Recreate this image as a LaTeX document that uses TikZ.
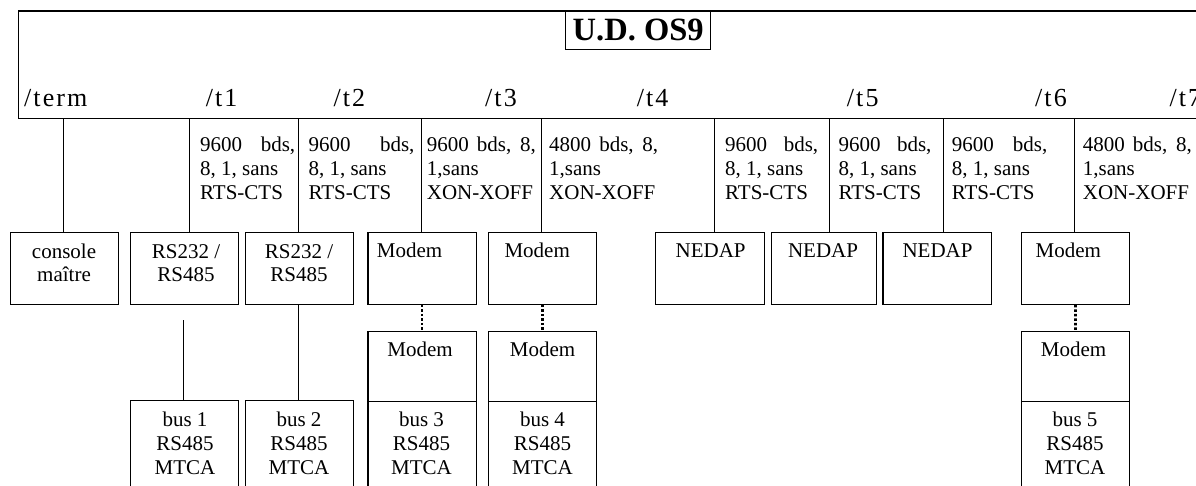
\documentclass[tikz,border=0pt]{standalone}
\usepackage{fontspec}
\setmainfont{Liberation Serif}
\newfontfamily\lblfont[LetterSpace=8]{Liberation Serif}
\begin{document}
\begin{tikzpicture}[x=1pt,y=-1pt,
  frame/.style={draw, line width=1.3, inner sep=0, anchor=north west},
  unit/.style={draw, line width=1.3, inner sep=0, anchor=north west, minimum height=71.5},
  bus/.style={draw, line width=1.3, inner sep=0, anchor=north west, minimum height=100},
  txt/.style={inner sep=0, anchor=base, align=center, font=\fontsize{21}{24}\selectfont},
  ltxt/.style={inner sep=0, anchor=base west, font=\fontsize{21}{24}\selectfont},
  col/.style={inner sep=0, anchor=base west, align=left, font=\fontsize{21}{24}\selectfont},
  lbl/.style={inner sep=0, anchor=base west, font=\lblfont\fontsize{26}{30}\selectfont},
  link/.style={line width=1.0},
  dots/.style={line width=2.6, dash pattern=on 2.5pt off 2pt}]
\path[use as bounding box] (0,0) rectangle (1196,486);
\clip (0,0) rectangle (1196,486);

% main frame
\node[frame, minimum width=1200, minimum height=107.5] (ud) at (18,10.5) {};
\node[frame, minimum width=145, minimum height=38.5, font=\bfseries\fontsize{32.5}{36}\selectfont] (title) at (565,10.5) {U.D. OS9};

% port labels
\node[lbl] (lterm) at (24,107) {/term};
\node[lbl] (lt1) at (205.7,107) {/t1};
\node[lbl] (lt2) at (333.3,107) {/t2};
\node[lbl] (lt3) at (485,107) {/t3};
\node[lbl] (lt4) at (636.7,107) {/t4};
\node[lbl] (lt5) at (846.7,107) {/t5};
\node[lbl] (lt6) at (1035,107) {/t6};
\node[lbl] (lt7) at (1169.3,107) {/t7};

% column parameters (base = last line)
\node[col] (c1) at (200,199.5) {\makebox[95pt][s]{9600 bds,}\\8, 1, sans\\RTS-CTS};
\node[col] (c2) at (308.3,199.5) {\makebox[106pt][s]{9600 bds,}\\8, 1, sans\\RTS-CTS};
\node[col] (c3) at (426.7,199.5) {\makebox[109pt][s]{9600 bds, 8,}\\1,sans\\XON-XOFF};
\node[col] (c4) at (549,199.5) {\makebox[109pt][s]{4800 bds, 8,}\\1,sans\\XON-XOFF};
\node[col] (c5) at (725,199.5) {\makebox[93pt][s]{9600 bds,}\\8, 1, sans\\RTS-CTS};
\node[col] (c6) at (838.3,199.5) {\makebox[93pt][s]{9600 bds,}\\8, 1, sans\\RTS-CTS};
\node[col] (c7) at (951.7,199.5) {\makebox[95.5pt][s]{9600 bds,}\\8, 1, sans\\RTS-CTS};
\node[col] (c8) at (1082.7,199.5) {\makebox[109pt][s]{4800 bds, 8,}\\1,sans\\XON-XOFF};

% first row of units
\node[unit, minimum width=108] (console) at (10,232) {};
\node[unit, minimum width=108] (rs1) at (130,232) {};
\node[unit, minimum width=108] (rs2) at (245,232) {};
\node[unit, minimum width=108.4] (mod3) at (367.3,232) {};
\node[unit, minimum width=108.3] (mod4) at (487.7,232) {};
\node[unit, minimum width=109] (ned1) at (655,232) {};
\node[unit, minimum width=105.3] (ned2) at (770.5,232) {};
\node[unit, minimum width=108.8] (ned3) at (882.2,232) {};
\node[unit, minimum width=108.4] (mod6) at (1020.6,232) {};

\node[txt] at (64,282) {console\\maître};
\node[txt] at (186,282) {RS232 /\\RS485};
\node[txt] at (299,282) {RS232 /\\RS485};
\node[ltxt] at (376.7,258) {Modem};
\node[ltxt] at (504.3,258) {Modem};
\node[txt] at (710.6,258) {NEDAP};
\node[txt] at (823,258) {NEDAP};
\node[txt] at (937.5,258) {NEDAP};
\node[ltxt] at (1035.4,258) {Modem};

% second row of modems
\node[unit, minimum width=108.4, minimum height=70] (mod3b) at (367.3,330.7) {};
\node[unit, minimum width=108.3, minimum height=70] (mod4b) at (487.7,330.7) {};
\node[unit, minimum width=108.3, minimum height=70] (mod6b) at (1020.7,330.7) {};
\node[txt] at (420,356.7) {Modem};
\node[txt] at (542.5,356.7) {Modem};
\node[txt] at (1073.5,356.7) {Modem};

% buses
\node[bus, minimum width=108] (bus1) at (130,400) {};
\node[bus, minimum width=108] (bus2) at (245,400) {};
\node[bus, minimum width=108.4] (bus3) at (367.3,400.7) {};
\node[bus, minimum width=108.3] (bus4) at (487.7,400.7) {};
\node[bus, minimum width=108.3] (bus5) at (1020.7,400.7) {};
\node[txt] at (185,474) {bus 1\\RS485\\MTCA};
\node[txt] at (299,474) {bus 2\\RS485\\MTCA};
\node[txt] at (421.5,474) {bus 3\\RS485\\MTCA};
\node[txt] at (542.5,474) {bus 4\\RS485\\MTCA};
\node[txt] at (1075,474) {bus 5\\RS485\\MTCA};

% connectors from the frame
\draw[link] ([xshift=-1pt]console.north) -- ([xshift=-1pt]console.north |- ud.south);
\draw[link] ([xshift=4.5pt]rs1.north) -- ([xshift=4.5pt]rs1.north |- ud.south);
\draw[link] ([xshift=-0.7pt]rs2.north) -- ([xshift=-0.7pt]rs2.north |- ud.south);
\draw[link] ([xshift=-0.7pt]mod3.north) -- ([xshift=-0.7pt]mod3.north |- ud.south);
\draw[link] ([xshift=-0.8pt]mod4.north) -- ([xshift=-0.8pt]mod4.north |- ud.south);
\draw[link] ([xshift=4.5pt]ned1.north) -- ([xshift=4.5pt]ned1.north |- ud.south);
\draw[link] ([xshift=5.3pt]ned2.north) -- ([xshift=5.3pt]ned2.north |- ud.south);
\draw[link] ([xshift=6.2pt]ned3.north) -- ([xshift=6.2pt]ned3.north |- ud.south);
\draw[link] ([xshift=-1pt]mod6.north) -- ([xshift=-1pt]mod6.north |- ud.south);

% connectors to buses
\coordinate (b1top) at (183.3,320);
\draw[link] (b1top) -- (b1top |- bus1.north);
\draw[link] ([xshift=-1.2pt]rs2.south) -- ([xshift=-1.2pt]bus2.north);

% dotted modem links
\draw[dots] (mod3.south) -- (mod3b.north);
\draw[dots] (mod4.south) -- (mod4b.north);
\draw[dots] (mod6.south) -- (mod6b.north);
\end{tikzpicture}
\end{document}
